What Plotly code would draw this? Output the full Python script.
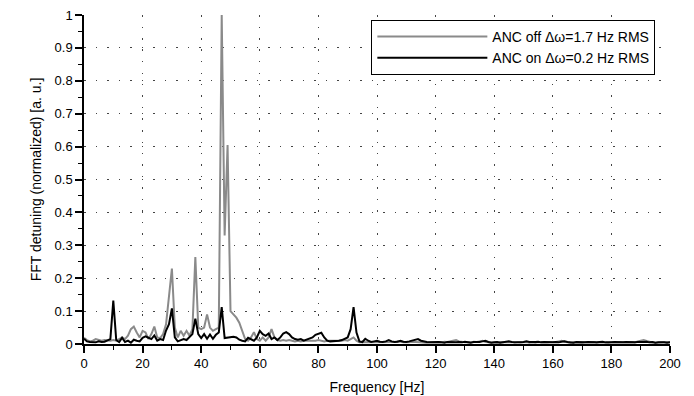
import plotly.graph_objects as go

freq = list(range(0, 201))

anc_off = [
    0.019, 0.012, 0.008, 0.010, 0.015, 0.013, 0.010, 0.012, 0.010, 0.010,
    0.012, 0.010, 0.015, 0.020, 0.015, 0.025, 0.045, 0.053, 0.035, 0.020,
    0.040, 0.035, 0.015, 0.030, 0.053, 0.020, 0.018, 0.030, 0.060, 0.150,
    0.229, 0.050, 0.020, 0.040, 0.025, 0.040, 0.025, 0.045, 0.264, 0.050,
    0.045, 0.050, 0.090, 0.050, 0.040, 0.045, 0.050, 1.000, 0.330, 0.605,
    0.100, 0.090, 0.080, 0.065, 0.040, 0.015, 0.010, 0.020, 0.036, 0.015,
    0.010, 0.020, 0.010, 0.020, 0.045, 0.020, 0.012, 0.010, 0.012, 0.010,
    0.012, 0.010, 0.008, 0.010, 0.008, 0.010, 0.010, 0.008, 0.010, 0.010,
    0.012, 0.010, 0.008, 0.010, 0.010, 0.008, 0.008, 0.010, 0.010, 0.012,
    0.010, 0.015, 0.020, 0.010, 0.005, 0.005, 0.006, 0.005, 0.006, 0.005,
    0.005, 0.006, 0.005, 0.007, 0.006, 0.005, 0.006, 0.008, 0.006, 0.005,
    0.006, 0.005, 0.007, 0.006, 0.005, 0.006, 0.005, 0.004, 0.005, 0.006,
    0.005, 0.006, 0.005, 0.007, 0.006, 0.008, 0.010, 0.012, 0.008, 0.006,
    0.005, 0.006, 0.005, 0.007, 0.006, 0.008, 0.010, 0.006, 0.005, 0.004,
    0.005, 0.004, 0.006, 0.005, 0.004, 0.005, 0.006, 0.004, 0.005, 0.004,
    0.005, 0.006, 0.004, 0.005, 0.004, 0.006, 0.005, 0.004, 0.005, 0.006,
    0.005, 0.006, 0.008, 0.010, 0.007, 0.005, 0.004, 0.005, 0.004, 0.005,
    0.004, 0.005, 0.004, 0.005, 0.006, 0.004, 0.005, 0.004, 0.005, 0.004,
    0.005, 0.004, 0.005, 0.006, 0.005, 0.004, 0.005, 0.006, 0.005, 0.008,
    0.010, 0.012, 0.009, 0.006, 0.005, 0.004, 0.005, 0.004, 0.005, 0.006,
    0.005,
]

anc_on = [
    0.016, 0.008, 0.006, 0.006, 0.005, 0.008, 0.006, 0.007, 0.010, 0.015,
    0.132, 0.012, 0.006, 0.019, 0.006, 0.010, 0.004, 0.013, 0.010, 0.008,
    0.019, 0.023, 0.019, 0.015, 0.026, 0.010, 0.015, 0.012, 0.041, 0.060,
    0.108, 0.020, 0.008, 0.012, 0.015, 0.012, 0.020, 0.030, 0.077, 0.030,
    0.018, 0.030, 0.016, 0.029, 0.016, 0.028, 0.035, 0.112, 0.018, 0.020,
    0.020, 0.022, 0.020, 0.013, 0.010, 0.008, 0.019, 0.015, 0.010, 0.020,
    0.040, 0.030, 0.025, 0.032, 0.015, 0.020, 0.012, 0.020, 0.032, 0.036,
    0.030, 0.020, 0.015, 0.013, 0.015, 0.010, 0.013, 0.015, 0.020, 0.028,
    0.030, 0.034, 0.020, 0.010, 0.008, 0.008, 0.008, 0.010, 0.012, 0.015,
    0.020, 0.045, 0.112, 0.035, 0.008, 0.006, 0.016, 0.010, 0.006, 0.008,
    0.010, 0.007, 0.006, 0.008, 0.012, 0.008, 0.006, 0.007, 0.010, 0.007,
    0.006, 0.008, 0.010, 0.012, 0.015, 0.010, 0.007, 0.006, 0.005, 0.006,
    0.005, 0.006, 0.005, 0.004, 0.006, 0.005, 0.004, 0.005, 0.006, 0.005,
    0.007, 0.005, 0.004, 0.006, 0.005, 0.006, 0.008, 0.010, 0.006, 0.004,
    0.005, 0.006, 0.004, 0.005, 0.006, 0.008, 0.006, 0.005, 0.006, 0.005,
    0.006, 0.008, 0.006, 0.005, 0.006, 0.007, 0.005, 0.006, 0.005, 0.004,
    0.005, 0.006, 0.005, 0.007, 0.008, 0.006, 0.005, 0.004, 0.006, 0.005,
    0.004, 0.005, 0.006, 0.005, 0.004, 0.005, 0.006, 0.007, 0.005, 0.004,
    0.005, 0.006, 0.005, 0.004, 0.005, 0.006, 0.005, 0.004, 0.005, 0.006,
    0.005, 0.006, 0.007, 0.005, 0.006, 0.004, 0.005, 0.006, 0.005, 0.004,
    0.005,
]

x_ticks = [0, 20, 40, 60, 80, 100, 120, 140, 160, 180, 200]
y_ticks = [0, 0.1, 0.2, 0.3, 0.4, 0.5, 0.6, 0.7, 0.8, 0.9, 1]
y_tick_labels = ["0", "0.1", "0.2", "0.3", "0.4", "0.5", "0.6", "0.7", "0.8", "0.9", "1"]

font_family = "Liberation Sans, Arial, Helvetica, sans-serif"

fig = go.Figure()
fig.add_trace(go.Scatter(
    x=freq, y=anc_off, mode="lines", name="ANC off \u0394\u03c9=1.7 Hz RMS",
    line=dict(color="#8a8a8a", width=2),
))
fig.add_trace(go.Scatter(
    x=freq, y=anc_on, mode="lines", name="ANC on \u0394\u03c9=0.2 Hz RMS",
    line=dict(color="#000000", width=2),
))

fig.update_layout(
    width=694, height=396,
    margin=dict(l=84, r=24, t=15, b=52, autoexpand=False),
    paper_bgcolor="white", plot_bgcolor="white",
    font=dict(family=font_family, size=13, color="black"),
    showlegend=True,
    legend=dict(
        x=0.975, y=0.985, xanchor="right", yanchor="top",
        bordercolor="black", borderwidth=1, bgcolor="white",
        font=dict(size=14, family=font_family, color="black"),
        itemwidth=110,
        tracegroupgap=0,
    ),
)

fig.update_xaxes(
    range=[0, 200], tickvals=x_ticks, ticktext=[str(v) for v in x_ticks],
    automargin=False,
    showline=True, linecolor="black", linewidth=1.5,
    ticks="outside", ticklen=7, tickwidth=1.5, tickcolor="black",
    minor=dict(dtick=10, ticks="outside", ticklen=4, tickwidth=1, tickcolor="black", showgrid=False),
    showgrid=True, gridcolor="#444444", gridwidth=1, griddash="1.5px,10px",
    zeroline=False,
    title=dict(text="Frequency [Hz]", font=dict(size=14), standoff=12),
    tickfont=dict(size=13),
)
fig.update_yaxes(
    range=[0, 1], tickvals=y_ticks, ticktext=y_tick_labels,
    automargin=False,
    showline=True, linecolor="black", linewidth=1.5,
    ticks="outside", ticklen=7, tickwidth=1.5, tickcolor="black",
    minor=dict(dtick=0.05, ticks="outside", ticklen=4, tickwidth=1, tickcolor="black", showgrid=False),
    showgrid=True, gridcolor="#444444", gridwidth=1, griddash="1.5px,10px",
    zeroline=False,
    title=dict(text="FFT detuning (normalized) [a. u.]", font=dict(size=14), standoff=10),
    tickfont=dict(size=13),
)

fig.write_html(
    "out.html",
    config={"displayModeBar": False},
    post_script="document.body.style.margin='0';document.body.style.overflow='hidden';",
)
